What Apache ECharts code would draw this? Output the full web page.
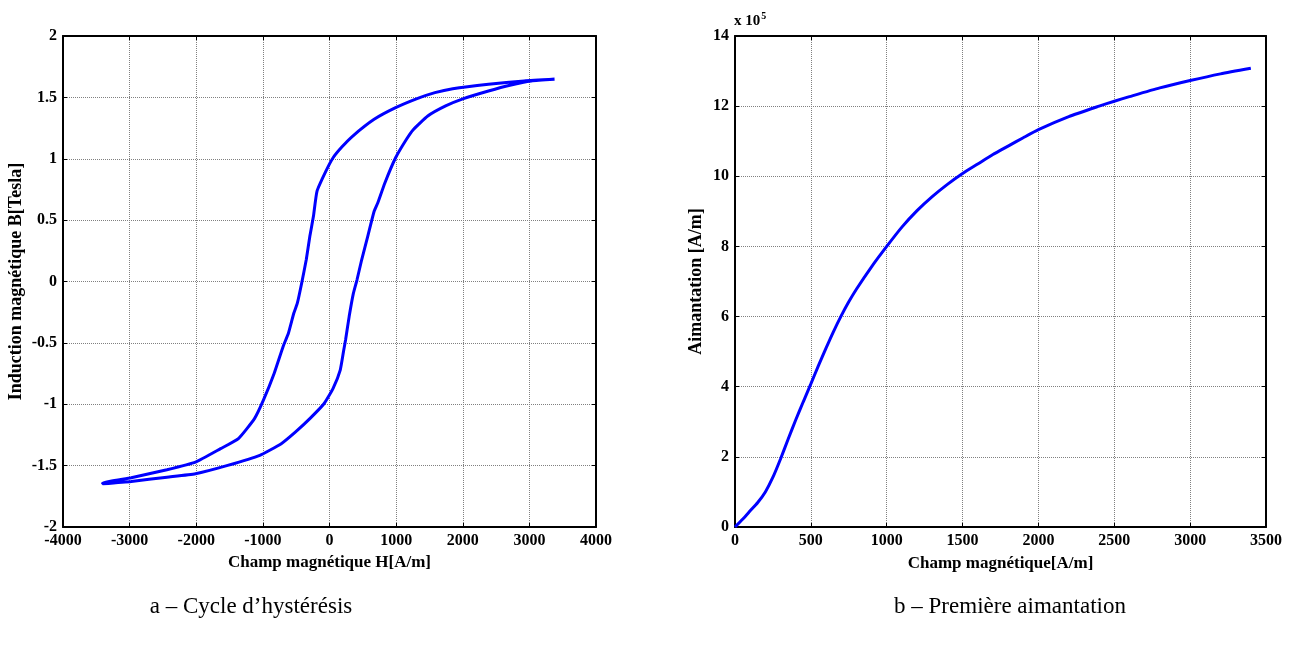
<!DOCTYPE html>
<html><head><meta charset="utf-8">
<script src="https://cdn.jsdelivr.net/npm/echarts@6/dist/echarts.min.js"></script>
<style>html,body{margin:0;padding:0;background:#fff}#c{width:1293px;height:646px}</style>
</head><body><div id="c"></div>
<script>
// Hysteresis loop: descending (upper) branch, H in A/m, B in Tesla
const upperH = [3378, 2922, 2386, 1850, 1582, 1314, 992, 670, 349, 188, 54, -54, -188, -241, -295, -349, -418, -483, -536, -617, -697, -831, -992, -1126, -1367, -1635, -2011, -2440, -2976, -3405];
const upperB = [1.647, 1.634, 1.607, 1.571, 1.539, 1.490, 1.416, 1.321, 1.185, 1.097, 1.008, 0.899, 0.735, 0.531, 0.368, 0.177, -0.014, -0.177, -0.259, -0.422, -0.531, -0.749, -0.967, -1.117, -1.280, -1.362, -1.471, -1.533, -1.599, -1.642];
// ascending (lower) branch
const lowerH = [-3405, -2976, -2440, -2011, -1528, -1046, -724, -509, -295, -80, 54, 161, 214, 241, 295, 359, 413, 483, 574, 670, 724, 831, 992, 1153, 1260, 1475, 1743, 2011, 2386, 2708, 3029, 3378];
const lowerB = [-1.648, -1.629, -1.594, -1.566, -1.498, -1.416, -1.321, -1.225, -1.117, -0.994, -0.871, -0.722, -0.558, -0.477, -0.286, -0.095, 0.014, 0.177, 0.368, 0.572, 0.640, 0.803, 1.008, 1.157, 1.239, 1.348, 1.430, 1.490, 1.552, 1.599, 1.634, 1.647];
// First magnetization curve: H in A/m, M in units of 1e5 A/m
const firstH = [0, 50, 100, 150, 200, 250, 300, 350, 400, 450, 500, 550, 600, 650, 700, 750, 800, 900, 1000, 1100, 1200, 1300, 1400, 1500, 1600, 1700, 1800, 1900, 2000, 2200, 2400, 2500, 2600, 2800, 3000, 3200, 3400];
const firstM = [0, 0.22, 0.46, 0.7, 1.0, 1.42, 1.94, 2.5, 3.05, 3.57, 4.08, 4.6, 5.1, 5.58, 6.02, 6.42, 6.78, 7.42, 8.0, 8.55, 9.02, 9.42, 9.77, 10.08, 10.35, 10.62, 10.86, 11.1, 11.33, 11.7, 12.0, 12.14, 12.27, 12.52, 12.73, 12.92, 13.08];

const leftXTitle = 'Champ magnétique H[A/m]';
const leftYTitle = 'Induction magnétique B[Tesla]';
const rightXTitle = 'Champ magnétique[A/m]';
const rightYTitle = 'Aimantation [A/m]';
const captionA = 'a – Cycle d’hystérésis';
const captionB = 'b – Première aimantation';

const loopData = upperH.map((h, i) => [h, upperB[i]]).concat(lowerH.map((h, i) => [h, lowerB[i]]));
const firstData = firstH.map((h, i) => [h, firstM[i]]);

const FONT = '"Liberation Serif", "Times New Roman", serif';
const lab = {color: '#000', fontFamily: FONT, fontWeight: 'bold', fontSize: 16, formatter: v => String(v)};
const split = {show: true, lineStyle: {color: '#808080', type: [1, 1], width: 1}};
const line = {show: true, onZero: false, lineStyle: {color: '#000', width: 2}};
const tick = {show: true, inside: true, length: 4, lineStyle: {color: '#000', width: 1}};

function axes(gi, xmin, xmax, xint, ymin, ymax, yint, xname, yname, xgap, ygap) {
  const xs = [
    {type: 'value', gridIndex: gi, min: xmin, max: xmax, interval: xint, position: 'bottom',
     axisLine: line, axisTick: tick, splitLine: split, axisLabel: Object.assign({margin: 6}, lab),
     name: xname, nameLocation: 'middle', nameGap: xgap,
     nameTextStyle: {color: '#000', fontFamily: FONT, fontWeight: 'bold', fontSize: 17}},
    {type: 'value', gridIndex: gi, min: xmin, max: xmax, interval: xint, position: 'top',
     axisLine: line, axisTick: tick, splitLine: {show: false}, axisLabel: {show: false}}
  ];
  const ys = [
    {type: 'value', gridIndex: gi, min: ymin, max: ymax, interval: yint, position: 'left',
     axisLine: line, axisTick: tick, splitLine: split, axisLabel: Object.assign({margin: 6}, lab),
     name: yname, nameLocation: 'middle', nameGap: ygap, nameRotate: 90,
     nameTextStyle: {color: '#000', fontFamily: FONT, fontWeight: 'bold', fontSize: 18}},
    {type: 'value', gridIndex: gi, min: ymin, max: ymax, interval: yint, position: 'right',
     axisLine: line, axisTick: tick, splitLine: {show: false}, axisLabel: {show: false}}
  ];
  return {xs, ys};
}
const A = axes(0, -4000, 4000, 1000, -2, 2, 0.5, leftXTitle, leftYTitle, 27, 38);
const B = axes(1, 0, 3500, 500, 0, 14, 2, rightXTitle, rightYTitle, 28, 30);

const chart = echarts.init(document.getElementById('c'), null, {renderer: 'canvas'});
chart.setOption({
  backgroundColor: '#fff',
  animation: false,
  grid: [
    {left: 63, top: 36, width: 533, height: 491},
    {left: 735, top: 36, width: 531, height: 491}
  ],
  xAxis: A.xs.concat(B.xs),
  yAxis: A.ys.concat(B.ys),
  series: [
    {type: 'line', xAxisIndex: 0, yAxisIndex: 0, data: loopData, showSymbol: false, smooth: 0.15,
     lineStyle: {color: '#0000ff', width: 3}},
    {type: 'line', xAxisIndex: 2, yAxisIndex: 2, data: firstData, showSymbol: false, smooth: 0.2,
     lineStyle: {color: '#0000ff', width: 3}}
  ],
  graphic: [
    {type: 'text', left: 734, top: 11, style: {text: '{a|x 10}{s|5}', rich: {
      a: {fontFamily: FONT, fontWeight: 'bold', fontSize: 15, fill: '#000', verticalAlign: 'bottom'},
      s: {fontFamily: FONT, fontWeight: 'bold', fontSize: 10, fill: '#000', verticalAlign: 'top', padding: [0, 0, 8, 1]}}}},
    {type: 'text', x: 251, y: 607, style: {text: captionA, fontFamily: FONT, fontSize: 23, fill: '#000', align: 'center', verticalAlign: 'middle'}},
    {type: 'text', x: 1010, y: 607, style: {text: captionB, fontFamily: FONT, fontSize: 23, fill: '#000', align: 'center', verticalAlign: 'middle'}}
  ]
});
</script></body></html>
